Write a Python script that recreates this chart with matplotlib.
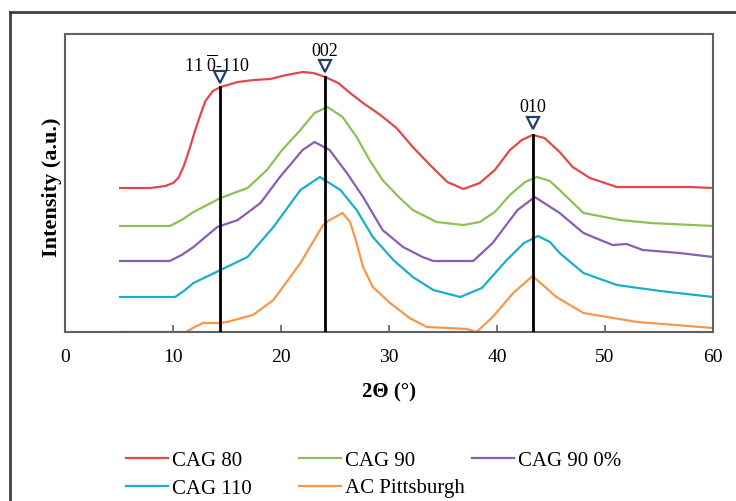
import matplotlib
matplotlib.use("Agg")
import matplotlib.pyplot as plt
from matplotlib.lines import Line2D

plt.rcParams['font.family'] = ['Liberation Serif', 'DejaVu Serif']
plt.rcParams['mathtext.fontset'] = 'custom'
plt.rcParams['mathtext.rm'] = 'Liberation Serif'

# XRD patterns (2-theta in degrees, intensity in arbitrary units, offset stacked)
cag80_x = [5.1, 7.9, 9.3, 10.0, 10.5, 11.0, 11.5, 12.0, 12.5, 13.0, 13.7, 14.4, 16.0, 17.5,
           19.0, 20.5, 22.0, 23.0, 24.1, 25.3, 26.4, 27.6, 29.2, 30.7, 32.2, 33.8, 35.4,
           36.9, 38.4, 39.8, 41.2, 42.3, 43.3, 44.4, 45.8, 47.0, 48.6, 51.1, 54.2, 57.9, 60.0]
cag80_y = [144, 144, 146, 149, 154, 166, 182, 200, 216, 231, 241, 245, 250, 252,
           253, 257, 260, 259, 255, 249, 239, 229, 217, 204, 185, 167, 150,
           143, 149, 162, 182, 192, 197, 194, 180, 165, 154, 145, 145, 145, 144]

cag90_x = [5.1, 9.7, 10.8, 11.9, 14.4, 16.9, 18.7, 20.1, 21.8, 23.1, 24.3, 25.7, 27.0, 28.2,
           29.4, 31.0, 32.2, 34.4, 36.9, 38.4, 39.8, 41.2, 42.6, 43.7, 44.9, 45.8, 48.0,
           51.4, 54.2, 60.0]
cag90_y = [106, 106, 112, 120, 134, 144, 162, 182, 202, 219, 225, 215, 195, 172,
           152, 134, 122, 110, 107, 110, 120, 137, 150, 155, 151, 142, 119,
           112, 109, 106]

cag90_0_x = [5.1, 9.7, 10.8, 11.9, 14.1, 16.0, 18.1, 19.9, 22.0, 23.1, 24.5, 26.1, 27.6, 29.4,
             31.3, 33.1, 34.1, 37.8, 38.4, 39.6, 41.9, 43.5, 45.8, 48.0, 50.7, 52.0,
             53.5, 56.9, 60.0]
cag90_0_y = [71, 71, 77, 85, 105, 112, 129, 155, 182, 190, 182, 159, 135, 102,
             85, 75, 71, 71, 77, 89, 122, 135, 119, 99, 87, 88,
             82, 79, 75]

cag110_x = [5.1, 10.2, 11.0, 11.9, 14.4, 16.9, 19.3, 21.8, 23.6, 25.5, 27.0, 28.5, 30.4, 32.2,
            34.1, 36.6, 38.6, 40.9, 42.5, 43.8, 44.9, 45.8, 48.0, 51.1, 55.1, 60.0]
cag110_y = [35, 35, 41, 49, 62, 75, 105, 142, 155, 142, 122, 95, 72, 55,
            42, 35, 44, 72, 89, 96, 90, 79, 59, 47, 41, 35]

pitt_x = [5.1, 11.2, 12.0, 12.8, 14.4, 15.0, 17.4, 19.3, 21.8, 23.9, 24.5, 25.2, 25.7, 26.4,
          27.0, 27.6, 28.5, 30.1, 31.9, 33.5, 35.4, 37.2, 38.1, 39.6, 41.5, 43.3, 45.5,
          48.0, 53.0, 60.0]
pitt_y = [0, 0, 5, 9, 9, 10, 17, 32, 69, 107, 112, 116, 119, 110,
          89, 65, 45, 29, 14, 5, 4, 3, 0, 15, 39, 56, 35,
          19, 10, 4]

# reflections
peak_labels = [r'$\mathrm{11\;\overline{0}}$-110', '002', '010']
peak_pos = [14.35, 24.05, 43.3]
peak_top = [245, 255, 197]
marker_y = [255, 266, 209]
label_x = [14.1, 24.05, 43.3]
label_y = [267, 280, 224]

series = [
    (cag80_x, cag80_y, 'CAG 80', '#E2484A'),
    (cag90_x, cag90_y, 'CAG 90', '#8DC153'),
    (cag90_0_x, cag90_0_y, 'CAG 90 0%', '#8A5DB3'),
    (cag110_x, cag110_y, 'CAG 110', '#19AECB'),
    (pitt_x, pitt_y, 'AC Pittsburgh', '#F7974A'),
]

fig = plt.figure(figsize=(7.36, 5.01), dpi=100)
ax = fig.add_axes([65 / 736, 1 - 332 / 501, 648 / 736, 298 / 501])

handles = {}
for xs, ys, name, col in series:
    h, = ax.plot(xs, ys, color=col, lw=1.6, label=name, solid_joinstyle='round')
    handles[name] = h

for px, top in zip(peak_pos, peak_top):
    ax.plot([px, px], [0, top], color='black', lw=2, zorder=3)
ax.plot(peak_pos, marker_y, linestyle='none', marker='v', markersize=8.5,
        markerfacecolor='white', markeredgecolor='#1F3F66', markeredgewidth=1.6, zorder=4)
for lx, ly, txt in zip(label_x, label_y, peak_labels):
    ax.text(lx, ly, txt, ha='center', va='center', fontsize=13)

ax.set_xlim(0, 60)
ax.set_ylim(0, 298)
ax.set_xticks(range(0, 61, 10))
ax.set_yticks([])
ax.tick_params(axis='x', direction='in', length=5, width=1.2, color='#606060',
               labelsize=14, pad=12)
for s in ax.spines.values():
    s.set_color('#606060')
    s.set_linewidth(1.5)

ax.set_xlabel('2\u0398 (\u00b0)', fontsize=15, fontweight='bold', labelpad=12)
fig.text(52 / 736, 1 - 187 / 501, 'Intensity (a.u.)', rotation=90, ha='center',
         va='center', fontsize=16, fontweight='bold')

# legend laid out in equal-width columns
legend_cols = [(126, ['CAG 80', 'CAG 110']), (299, ['CAG 90', 'AC Pittsburgh']),
               (472, ['CAG 90 0%'])]
for xpix, names in legend_cols:
    fig.legend(handles=[handles[n] for n in names], labels=names, loc='upper left',
               bbox_to_anchor=(xpix / 736, 1 - 451 / 501), frameon=False,
               borderpad=0, borderaxespad=0, handlelength=2.0, handletextpad=0.2,
               labelspacing=0.4, fontsize=15)

# outer chart border (left and top edges)
fig.add_artist(Line2D([10 / 736, 10 / 736], [0, 1 - 12 / 501], transform=fig.transFigure,
                      color='#404040', lw=2))
fig.add_artist(Line2D([10 / 736, 1], [1 - 12 / 501, 1 - 12 / 501], transform=fig.transFigure,
                      color='#404040', lw=2))

fig.savefig('out.png', dpi=100)
